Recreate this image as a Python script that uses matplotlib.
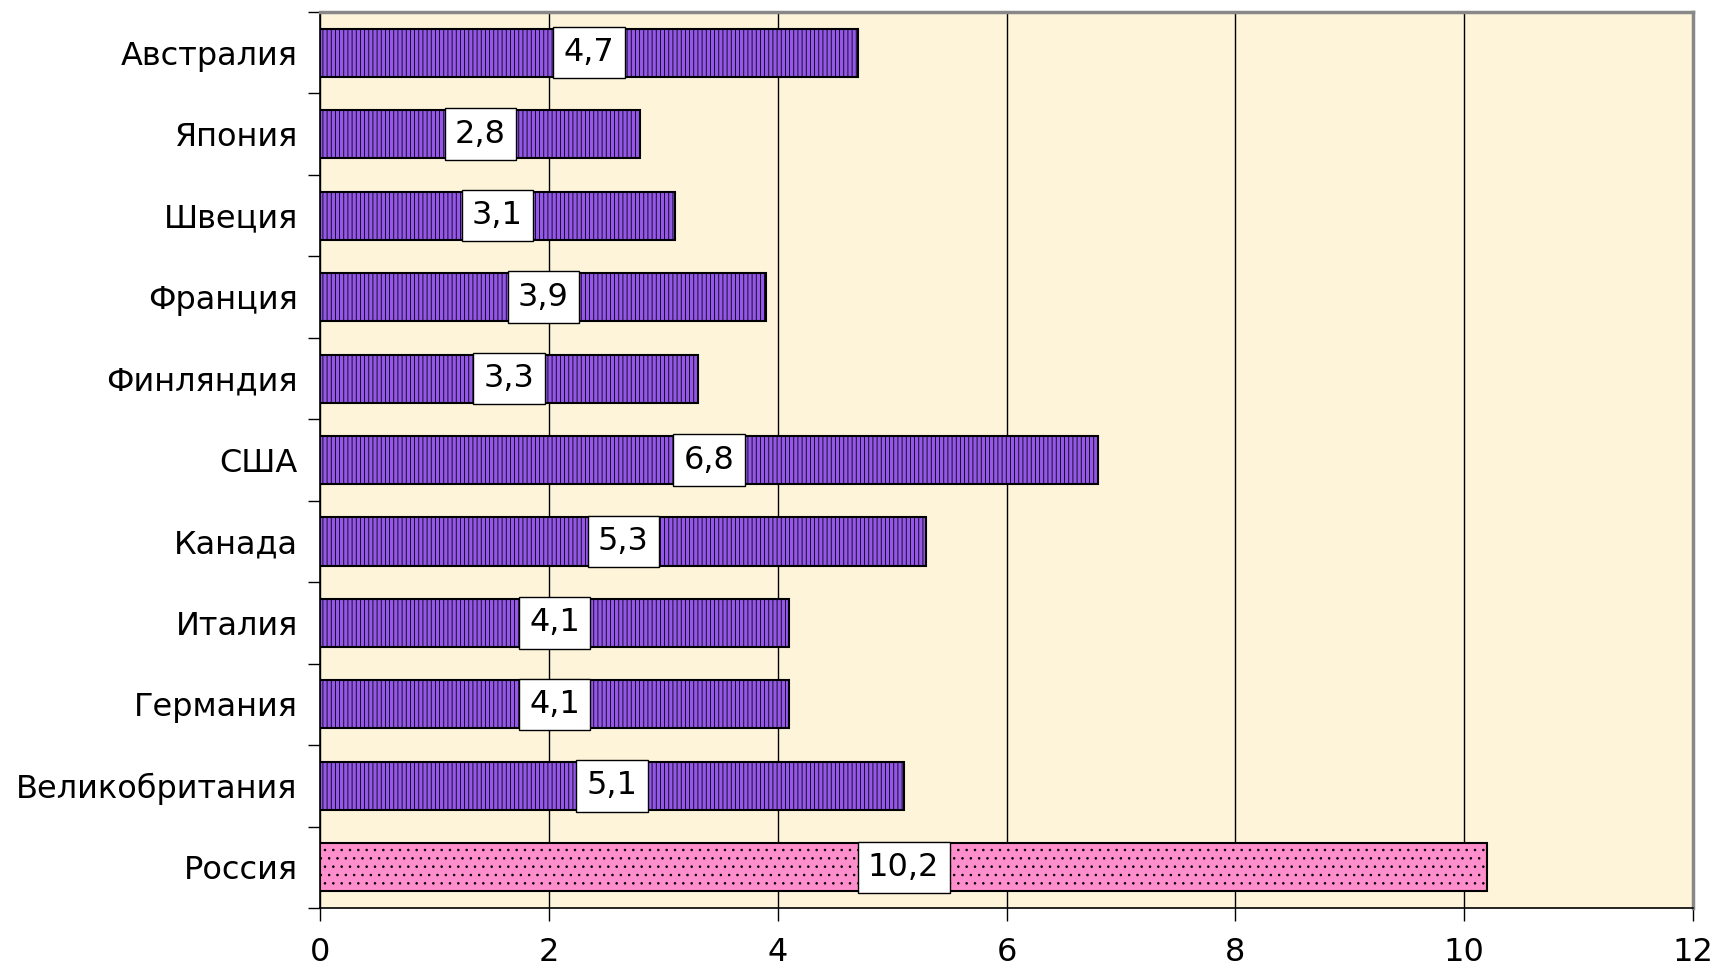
import matplotlib
matplotlib.use("Agg")
import matplotlib.pyplot as plt
import numpy as np

countries = ["Австралия", "Япония", "Швеция", "Франция", "Финляндия", "США",
             "Канада", "Италия", "Германия", "Великобритания", "Россия"]
values = [4.7, 2.8, 3.1, 3.9, 3.3, 6.8, 5.3, 4.1, 4.1, 5.1, 10.2]
xticks = [0, 2, 4, 6, 8, 10, 12]

plt.rcParams['font.family'] = ['DejaVu Sans']
plt.rcParams['hatch.linewidth'] = 0.6

fig = plt.figure(figsize=(17.18, 9.66), dpi=100)
ax = fig.add_axes([0.1863, 0.06, 0.7992, 0.9276])
ax.set_facecolor("#fdf4da")

n = len(countries)
ypos = np.arange(n)
for i, (c, v) in enumerate(zip(countries, values)):
    if c == "Россия":
        fc, hatch = "#ff8fcc", ".."
    else:
        fc, hatch = "#9457ea", "||||"
    ax.barh(i, v, height=0.59, color=fc, edgecolor="black", linewidth=1.5,
            hatch=hatch, zorder=3)
    ax.text(v / 2, i, f"{v:.1f}".replace(".", ","), ha="center", va="center",
            fontsize=23, zorder=4,
            bbox=dict(boxstyle="square,pad=0.32", fc="white", ec="black", lw=1))

ax.set_xlim(0, 12)
ax.set_ylim(n - 0.5, -0.5)
ax.set_xticks(xticks)
ax.set_xticklabels([str(t) for t in xticks], fontsize=23)
ax.set_yticks(ypos)
ax.set_yticklabels(countries, fontsize=23)
ax.set_yticks(np.arange(n + 1) - 0.5, minor=True)
ax.tick_params(axis="y", which="major", length=0, pad=16)
ax.tick_params(axis="y", which="minor", length=9, width=1)
ax.tick_params(axis="x", length=9, width=1, pad=12)
ax.grid(axis="x", color="black", linewidth=1, zorder=1)
ax.set_axisbelow(True)

for s in ["top", "right"]:
    ax.spines[s].set_color("#888888")
    ax.spines[s].set_linewidth(2.5)
for s in ["left", "bottom"]:
    ax.spines[s].set_color("black")
    ax.spines[s].set_linewidth(1.2)

fig.savefig("out.png", dpi=100)
